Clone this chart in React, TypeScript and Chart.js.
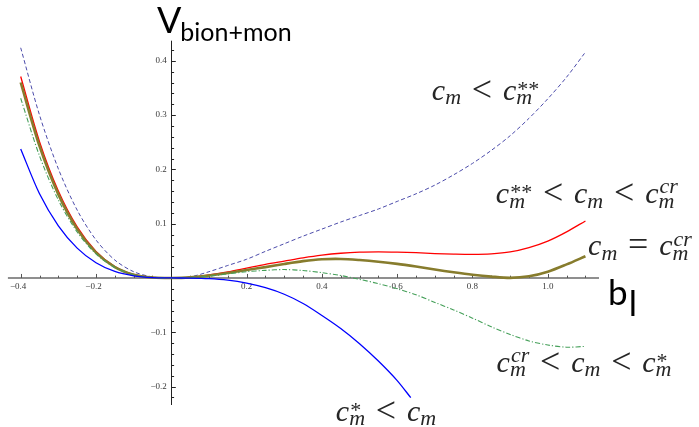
import { useEffect, useRef } from "react";
import { Chart, registerables } from "chart.js";

Chart.register(...registerables);

// b_l sample positions shared by the four curves that run to b_l = 1.1
const B_VALUES = [
  -0.4, -0.35, -0.3, -0.25, -0.2, -0.15, -0.1, -0.05, 0, 0.05, 0.1, 0.15, 0.2, 0.25, 0.3,
  0.35, 0.4, 0.45, 0.5, 0.55, 0.6, 0.65, 0.7, 0.75, 0.8, 0.85, 0.9, 0.95, 1.0, 1.05, 1.1,
];

// c_m < c_m**
const V_BELOW_SS = [
  0.424, 0.3, 0.201, 0.125, 0.07, 0.033, 0.0115, 0.002, 0, 0.002, 0.0115, 0.023, 0.0344, 0.049,
  0.063, 0.077, 0.09, 0.103, 0.115, 0.127, 0.141, 0.155, 0.171, 0.19, 0.211, 0.235, 0.262, 0.294,
  0.33, 0.37, 0.416,
];

// c_m** < c_m < c_m^cr
const V_SS_TO_CR = [
  0.371, 0.251, 0.16, 0.094, 0.049, 0.0212, 0.0065, 0.001, 0, 0.0012, 0.0055, 0.011, 0.018, 0.025,
  0.031, 0.037, 0.042, 0.0455, 0.0475, 0.048, 0.0475, 0.0465, 0.045, 0.044, 0.0435, 0.0445, 0.048,
  0.056, 0.068, 0.085, 0.105,
];

// c_m = c_m^cr
const V_CRITICAL = [
  0.36, 0.2427, 0.154, 0.09, 0.0466, 0.02, 0.006, 0.0009, 0, 0.001, 0.0045, 0.009, 0.0147, 0.02,
  0.0258, 0.031, 0.0344, 0.035, 0.033, 0.03, 0.026, 0.021, 0.0155, 0.0105, 0.006, 0.0025, 0.0002,
  0.003, 0.0115, 0.025, 0.04,
];

// c_m^cr < c_m < c_m*
const V_CR_TO_S = [
  0.331, 0.2248, 0.1436, 0.0847, 0.0443, 0.0193, 0.006, 0.0008, 0, 0.0008, 0.003, 0.0075, 0.0115,
  0.014, 0.0155, 0.0137, 0.0098, 0.0045, -0.0025, -0.0105, -0.02, -0.031, -0.045, -0.059, -0.074,
  -0.09, -0.104, -0.116, -0.1235, -0.1275, -0.126,
];

// c_m* < c_m (stops at b_l ≈ 0.64)
const B_VALUES_ABOVE_S = [
  -0.4, -0.35, -0.3, -0.25, -0.2, -0.15, -0.1, -0.05, 0, 0.05, 0.1, 0.15, 0.2, 0.25, 0.3, 0.35,
  0.4, 0.45, 0.5, 0.55, 0.6, 0.636,
];
const V_ABOVE_S = [
  0.2376, 0.155, 0.096, 0.055, 0.028, 0.012, 0.004, 0.0006, 0, -0.0002, -0.0012, -0.004, -0.0095,
  -0.018, -0.03, -0.047, -0.069, -0.093, -0.121, -0.153, -0.189, -0.2205,
];

const X_MAJOR = [-0.4, -0.2, 0.2, 0.4, 0.6, 0.8, 1.0];
const X_LABELS = ["−0.4", "−0.2", "0.2", "0.4", "0.6", "0.8", "1.0"];
const Y_MAJOR = [-0.2, -0.1, 0.1, 0.2, 0.3, 0.4];
const Y_LABELS = ["−0.2", "−0.1", "0.1", "0.2", "0.3", "0.4"];

type Tok = { base: string; sub?: string; sup?: string } | { op: string };

// curve annotations, anchored at (b_l, V) of the left end of the baseline
const CURVE_LABELS: { at: [number, number]; toks: Tok[] }[] = [
  { at: [0.692, 0.328], toks: [{ base: "c", sub: "m" }, { op: "<" }, { base: "c", sub: "m", sup: "**" }] },
  {
    at: [0.862, 0.138],
    toks: [
      { base: "c", sub: "m", sup: "**" },
      { op: "<" },
      { base: "c", sub: "m" },
      { op: "<" },
      { base: "c", sub: "m", sup: "cr" },
    ],
  },
  { at: [1.107, 0.042], toks: [{ base: "c", sub: "m" }, { op: "=" }, { base: "c", sub: "m", sup: "cr" }] },
  {
    at: [0.864, -0.1725],
    toks: [
      { base: "c", sub: "m", sup: "cr" },
      { op: "<" },
      { base: "c", sub: "m" },
      { op: "<" },
      { base: "c", sub: "m", sup: "*" },
    ],
  },
  { at: [0.437, -0.263], toks: [{ base: "c", sub: "m", sup: "*" }, { op: "<" }, { base: "c", sub: "m" }] },
];

const SERIF = '"Liberation Serif", "DejaVu Serif", serif';
const SANS = 'Lato, "Open Sans", sans-serif';

function drawMath(ctx: CanvasRenderingContext2D, toks: Tok[], x: number, y: number, size: number) {
  const small = Math.round(size * 0.74);
  let cx = x;
  for (const t of toks) {
    if ("op" in t) {
      ctx.font = `${Math.round(size * 1.2)}px ${SERIF}`;
      cx += size * 0.36;
      ctx.fillText(t.op, cx, y + size * 0.03);
      cx += ctx.measureText(t.op).width + size * 0.36;
    } else {
      ctx.font = `italic ${size}px ${SERIF}`;
      ctx.fillText(t.base, cx, y);
      cx += ctx.measureText(t.base).width;
      ctx.font = `italic ${small}px ${SERIF}`;
      let w = 0;
      if (t.sub) {
        ctx.fillText(t.sub, cx, y + size * 0.15);
        w = Math.max(w, ctx.measureText(t.sub).width);
      }
      if (t.sup) {
        const stars = /^\*+$/.test(t.sup);
        ctx.font = stars ? `${small}px ${SERIF}` : `italic ${small}px ${SERIF}`;
        const dy = stars ? size * 0.12 : size * 0.32;
        ctx.fillText(t.sup, cx + 1, y - dy);
        w = Math.max(w, ctx.measureText(t.sup).width + 1);
      }
      cx += w;
    }
  }
}

const crossAxes = {
  id: "crossAxes",
  beforeDatasetsDraw(chart: any) {
    const { ctx } = chart;
    const xs = chart.scales.x;
    const ys = chart.scales.y;
    const x0 = xs.getPixelForValue(0);
    const y0 = ys.getPixelForValue(0);
    ctx.save();

    // horizontal axis with upward ticks
    ctx.strokeStyle = "#6a6a6a";
    ctx.lineWidth = 1.4;
    ctx.beginPath();
    ctx.moveTo(xs.left, y0);
    ctx.lineTo(xs.right, y0);
    ctx.stroke();
    ctx.lineWidth = 1;
    ctx.strokeStyle = "#555";
    for (let i = -8; i <= 22; i++) {
      if (i === 0) continue;
      const px = Math.round(xs.getPixelForValue(i * 0.05)) + 0.5;
      const len = i % 4 === 0 ? 4 : 2.3;
      ctx.beginPath();
      ctx.moveTo(px, y0);
      ctx.lineTo(px, y0 - len);
      ctx.stroke();
    }

    // vertical axis with rightward ticks
    ctx.strokeStyle = "#222";
    ctx.lineWidth = 1;
    ctx.beginPath();
    ctx.moveTo(Math.round(x0) + 0.5, ys.top);
    ctx.lineTo(Math.round(x0) + 0.5, ys.bottom);
    ctx.stroke();
    for (let i = -11; i <= 21; i++) {
      if (i === 0) continue;
      const py = Math.round(ys.getPixelForValue(i * 0.02)) + 0.5;
      const len = i % 5 === 0 ? 4.5 : 2.8;
      ctx.beginPath();
      ctx.moveTo(x0, py);
      ctx.lineTo(x0 + len, py);
      ctx.stroke();
    }

    // tick labels
    ctx.fillStyle = "#3a3a3a";
    ctx.font = `9px ${SERIF}`;
    ctx.textBaseline = "middle";
    X_MAJOR.forEach((v, i) => {
      const label = X_LABELS[i];
      const px = xs.getPixelForValue(v);
      const num = label.replace("−", "");
      const wNum = ctx.measureText(num).width;
      ctx.textAlign = "left";
      ctx.fillText(num, px - wNum / 2, y0 + 8.5);
      if (num !== label) {
        ctx.textAlign = "right";
        ctx.fillText("−", px - wNum / 2, y0 + 8.5);
      }
    });
    ctx.textAlign = "right";
    Y_MAJOR.forEach((v, i) => {
      ctx.fillText(Y_LABELS[i], x0 - 4.5, ys.getPixelForValue(v));
    });
    ctx.restore();
  },
  afterDraw(chart: any) {
    const { ctx } = chart;
    const xs = chart.scales.x;
    const ys = chart.scales.y;
    ctx.save();
    ctx.textAlign = "left";
    ctx.textBaseline = "alphabetic";

    // axis titles
    ctx.fillStyle = "#000";
    const vx = xs.getPixelForValue(-0.038);
    const vy = ys.getPixelForValue(0.451);
    ctx.font = `36px ${SANS}`;
    ctx.fillText("V", vx, vy);
    const vw = ctx.measureText("V").width;
    ctx.font = `25px ${SANS}`;
    ctx.fillText("bion+mon", vx + vw - 1, vy + 8);

    const bx = xs.getPixelForValue(1.16);
    const by = ys.getPixelForValue(-0.0497);
    ctx.font = `35px ${SANS}`;
    ctx.fillText("b", bx, by);
    const bw = ctx.measureText("b").width;
    ctx.fillText("l", bx + bw + 1, by + 11);

    // curve annotations
    ctx.fillStyle = "#262626";
    CURVE_LABELS.forEach((l) => {
      drawMath(ctx, l.toks, xs.getPixelForValue(l.at[0]), ys.getPixelForValue(l.at[1]), 30);
    });
    ctx.restore();
  },
};

function pts(xs: number[], ys: number[]) {
  return xs.map((x, i) => ({ x, y: ys[i] }));
}

export default function App() {
  const ref = useRef<HTMLCanvasElement | null>(null);

  useEffect(() => {
    if (!ref.current) return;
    const common = { pointRadius: 0, fill: false, tension: 0.3 };
    const chart = new Chart(ref.current, {
      type: "line",
      data: {
        datasets: [
          { ...common, label: "c_m* < c_m", data: pts(B_VALUES_ABOVE_S, V_ABOVE_S), borderColor: "rgb(0,0,255)", borderWidth: 1.3 },
          {
            ...common,
            label: "c_m^cr < c_m < c_m*",
            data: pts(B_VALUES, V_CR_TO_S),
            borderColor: "rgb(70,160,90)",
            borderWidth: 1.1,
            borderDash: [5, 2, 1.2, 2],
          },
          { ...common, label: "c_m = c_m^cr", data: pts(B_VALUES, V_CRITICAL), borderColor: "rgb(135,124,45)", borderWidth: 2.6 },
          { ...common, label: "c_m** < c_m < c_m^cr", data: pts(B_VALUES, V_SS_TO_CR), borderColor: "rgb(255,0,0)", borderWidth: 1.3 },
          {
            ...common,
            label: "c_m < c_m**",
            data: pts(B_VALUES, V_BELOW_SS),
            borderColor: "rgb(75,75,170)",
            borderWidth: 1,
            borderDash: [4, 2.5],
          },
        ],
      },
      options: {
        animation: false,
        responsive: false,
        maintainAspectRatio: false,
        devicePixelRatio: 1,
        layout: { padding: { left: 7.9, right: 100, top: 40.7, bottom: 22 } },
        scales: {
          x: { type: "linear", min: -0.434, max: 1.136, display: false },
          y: { type: "linear", min: -0.234, max: 0.437, display: false },
        },
        plugins: { legend: { display: false }, tooltip: { enabled: false } },
        elements: { line: { borderCapStyle: "butt" } },
      },
      plugins: [crossAxes],
    });
    return () => chart.destroy();
  }, []);

  return (
    <div style={{ position: "fixed", left: 0, top: 0, width: 699, height: 427, background: "#fff" }}>
      <canvas ref={ref} width={699} height={427} style={{ display: "block" }} />
    </div>
  );
}
